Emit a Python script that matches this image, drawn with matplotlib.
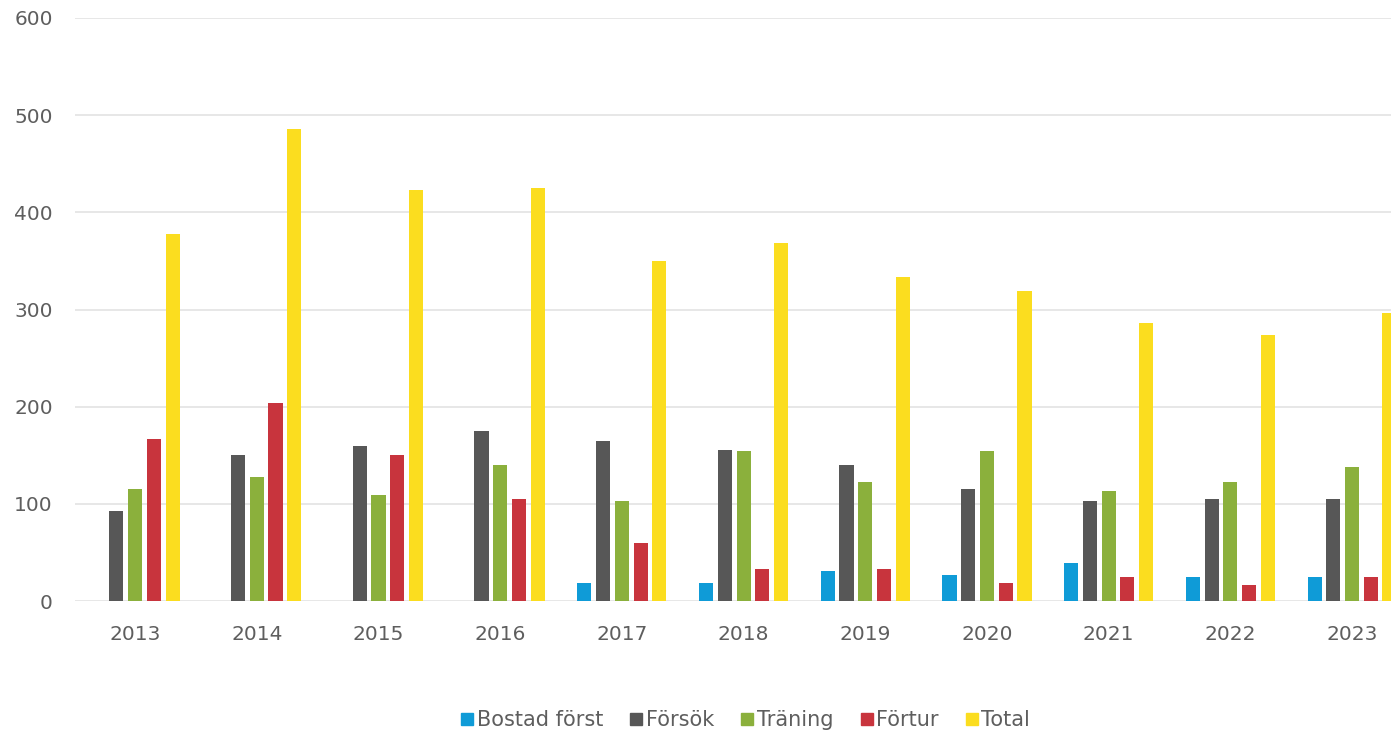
import matplotlib
matplotlib.use("Agg")
import matplotlib.pyplot as plt
from matplotlib.lines import Line2D
import numpy as np

years = ["2013", "2014", "2015", "2016", "2017", "2018",
         "2019", "2020", "2021", "2022", "2023"]
series_names = ["Bostad först", "Försök", "Träning", "Förtur", "Total"]
bostad_forst = [0, 0, 0, 0, 19, 19, 31, 27, 39, 25, 25]
forsok = [93, 150, 160, 175, 165, 156, 140, 115, 103, 105, 105]
traning = [115, 128, 109, 140, 103, 154, 123, 154, 113, 123, 138]
fortur = [167, 204, 150, 105, 60, 33, 33, 19, 25, 17, 25]
total = [378, 486, 423, 425, 350, 368, 333, 319, 286, 274, 296]

colors = ["#0f9bd7", "#575757", "#8bb03c", "#c8343d", "#fbdd1f"]
text_color = "#5e5e5e"
grid_color = "#e3e3e3"

plt.rcParams["font.family"] = "DejaVu Sans"

fig = plt.figure(figsize=(13.91, 7.34), dpi=100)
ax = fig.add_axes([0.054, 0.181, 0.946, 0.7945])

x = np.arange(len(years))
width = 0.116
step = 0.154
data = [bostad_forst, forsok, traning, fortur, total]
for i, (vals, col) in enumerate(zip(data, colors)):
    ax.bar(x + (i - 2) * step, vals, width=width, color=col, zorder=3)

ax.set_ylim(0, 600)
ax.set_xlim(-0.493, 10.32)
ax.set_yticks(range(0, 601, 100))
ax.set_xticks(x)
ax.set_xticklabels(years)
ax.yaxis.grid(True, color=grid_color, linewidth=1.2, zorder=0)
ax.set_axisbelow(True)
for s in ax.spines.values():
    s.set_visible(False)
ax.tick_params(axis="both", length=0, labelsize=14.5, labelcolor=text_color)
ax.tick_params(axis="x", pad=17)
ax.tick_params(axis="y", pad=16)

handles = [Line2D([0], [0], marker="s", linestyle="none", markersize=9,
                  markerfacecolor=c, markeredgecolor=c) for c in colors]
fig.legend(handles, series_names, loc="center", bbox_to_anchor=(0.536, 0.019),
           ncol=5, frameon=False, fontsize=15, labelcolor=text_color,
           handlelength=0.6, handletextpad=0.15, columnspacing=1.3)

fig.savefig("out.png", dpi=100)
